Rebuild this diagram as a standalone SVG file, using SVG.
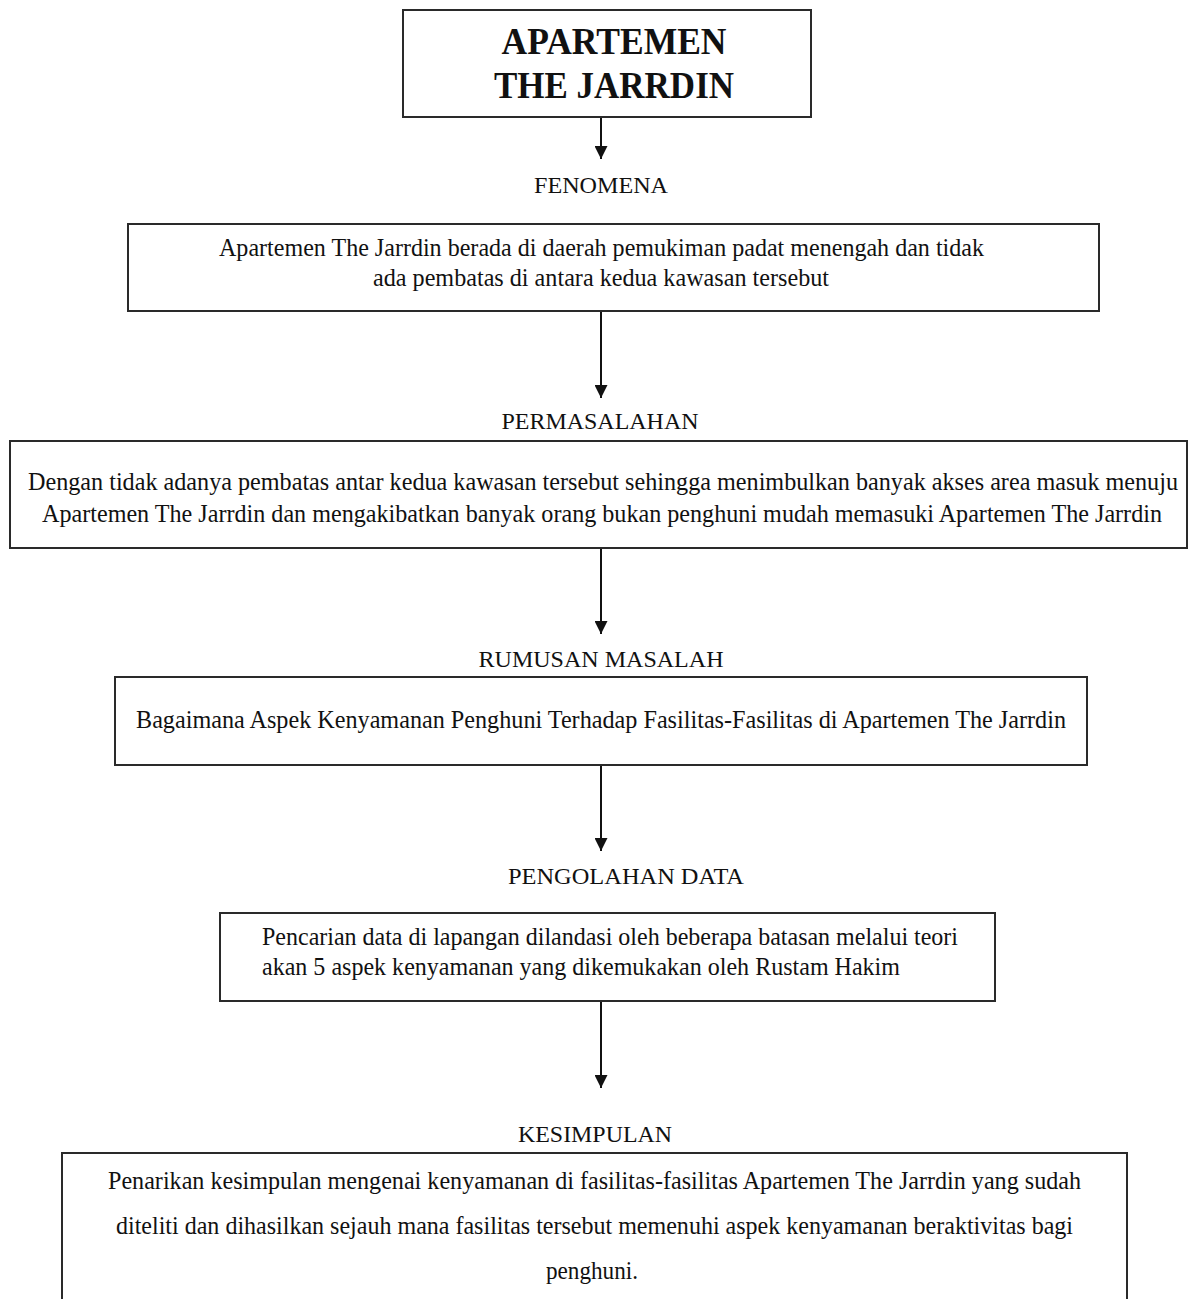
<svg xmlns="http://www.w3.org/2000/svg" width="1189" height="1299" viewBox="0 0 1189 1299">
<style>
.box{fill:#fff;stroke:#2a2a2a;stroke-width:2}
.t{font-family:"Liberation Serif",serif;font-size:25px;fill:#111}
.h{font-family:"Liberation Serif",serif;font-size:24px;fill:#111;text-anchor:middle}
.b{font-family:"Liberation Serif",serif;font-size:37px;font-weight:bold;fill:#111;text-anchor:middle}
.c{stroke:#111;stroke-width:2;fill:none}
</style>
<defs>
<marker id="ah" viewBox="0 0 12 12" refX="12" refY="6" markerWidth="13" markerHeight="13" markerUnits="userSpaceOnUse" orient="auto">
<path d="M0,0 L12,6 L0,12 Z" fill="#111"/>
</marker>
</defs>
<rect width="1189" height="1299" fill="#fff"/>
<g id="connectors">
<line class="c" x1="601" y1="117" x2="601" y2="159" marker-end="url(#ah)"/>
<line class="c" x1="601" y1="311" x2="601" y2="398" marker-end="url(#ah)"/>
<line class="c" x1="601" y1="548" x2="601" y2="634" marker-end="url(#ah)"/>
<line class="c" x1="601" y1="765" x2="601" y2="851" marker-end="url(#ah)"/>
<line class="c" x1="601" y1="1001" x2="601" y2="1088" marker-end="url(#ah)"/>
</g>
<g id="node-title">
<rect class="box" x="403" y="10" width="408" height="107"/>
<text class="b" x="614" y="54" textLength="225" lengthAdjust="spacingAndGlyphs">APARTEMEN</text>
<text class="b" x="614" y="98" textLength="240" lengthAdjust="spacingAndGlyphs">THE JARRDIN</text>
</g>
<g id="label-fenomena">
<text class="h" x="601" y="193" textLength="134" lengthAdjust="spacingAndGlyphs">FENOMENA</text>
</g>
<g id="node-fenomena">
<rect class="box" x="128" y="224" width="971" height="87"/>
<text class="t" x="219" y="256" textLength="765" lengthAdjust="spacingAndGlyphs">Apartemen The Jarrdin berada di daerah pemukiman padat menengah dan tidak</text>
<text class="t" x="373" y="286" textLength="456" lengthAdjust="spacingAndGlyphs">ada pembatas di antara kedua kawasan tersebut</text>
</g>
<g id="label-permasalahan">
<text class="h" x="600" y="429" textLength="197" lengthAdjust="spacingAndGlyphs">PERMASALAHAN</text>
</g>
<g id="node-permasalahan">
<rect class="box" x="10" y="441" width="1177" height="107"/>
<text class="t" x="28" y="490" textLength="1150" lengthAdjust="spacingAndGlyphs">Dengan tidak adanya pembatas antar kedua kawasan tersebut sehingga menimbulkan banyak akses area masuk menuju</text>
<text class="t" x="42" y="522" textLength="1120" lengthAdjust="spacingAndGlyphs">Apartemen The Jarrdin dan mengakibatkan banyak orang bukan penghuni mudah memasuki Apartemen The Jarrdin</text>
</g>
<g id="label-rumusan">
<text class="h" x="601" y="667" textLength="245" lengthAdjust="spacingAndGlyphs">RUMUSAN MASALAH</text>
</g>
<g id="node-rumusan">
<rect class="box" x="115" y="677" width="972" height="88"/>
<text class="t" x="136" y="728" textLength="930" lengthAdjust="spacingAndGlyphs">Bagaimana Aspek Kenyamanan Penghuni Terhadap Fasilitas-Fasilitas di Apartemen The Jarrdin</text>
</g>
<g id="label-pengolahan">
<text class="h" x="626" y="884" textLength="236" lengthAdjust="spacingAndGlyphs">PENGOLAHAN DATA</text>
</g>
<g id="node-pengolahan">
<rect class="box" x="220" y="913" width="775" height="88"/>
<text class="t" x="262" y="945" textLength="696" lengthAdjust="spacingAndGlyphs">Pencarian data di lapangan dilandasi oleh beberapa batasan melalui teori</text>
<text class="t" x="262" y="975" textLength="638" lengthAdjust="spacingAndGlyphs">akan 5 aspek kenyamanan yang dikemukakan oleh Rustam Hakim</text>
</g>
<g id="label-kesimpulan">
<text class="h" x="595" y="1142" textLength="154" lengthAdjust="spacingAndGlyphs">KESIMPULAN</text>
</g>
<g id="node-kesimpulan">
<path class="box" d="M62,1310 L62,1153 L1127,1153 L1127,1310"/>
<text class="t" x="108" y="1189" textLength="973" lengthAdjust="spacingAndGlyphs">Penarikan kesimpulan mengenai kenyamanan di fasilitas-fasilitas Apartemen The Jarrdin yang sudah</text>
<text class="t" x="116" y="1234" textLength="957" lengthAdjust="spacingAndGlyphs">diteliti dan dihasilkan sejauh mana fasilitas tersebut memenuhi aspek kenyamanan beraktivitas bagi</text>
<text class="t" x="546" y="1279" textLength="92" lengthAdjust="spacingAndGlyphs">penghuni.</text>
</g>
</svg>
